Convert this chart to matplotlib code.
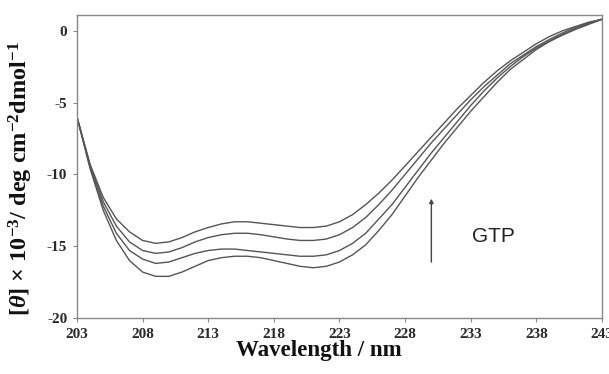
import numpy as np
import matplotlib.pyplot as plt

plt.rcParams['axes.unicode_minus'] = False
plt.rcParams['mathtext.fontset'] = 'custom'
plt.rcParams['mathtext.rm'] = 'Liberation Serif:bold'
plt.rcParams['mathtext.it'] = 'Liberation Serif:bold:italic'
plt.rcParams['mathtext.bf'] = 'Liberation Serif:bold'

wavelength = np.arange(203, 244)

# CD spectra, increasing GTP (bottom -> top)
cd_0 = [-6.0, -9.6, -12.5, -14.6, -16.0, -16.8, -17.1, -17.1, -16.8, -16.4,
        -16.0, -15.8, -15.7, -15.7, -15.8, -16.0, -16.2, -16.4, -16.5, -16.4,
        -16.1, -15.6, -14.9, -13.9, -12.8, -11.5, -10.2, -9.0, -7.8, -6.7,
        -5.6, -4.6, -3.6, -2.7, -2.0, -1.3, -0.75, -0.3, 0.1, 0.45, 0.8]
cd_1 = [-6.0, -9.5, -12.2, -14.1, -15.3, -15.9, -16.2, -16.1, -15.8, -15.5,
        -15.3, -15.2, -15.2, -15.3, -15.4, -15.5, -15.6, -15.7, -15.7, -15.6,
        -15.3, -14.8, -14.1, -13.1, -12.1, -10.9, -9.7, -8.5, -7.4, -6.3,
        -5.2, -4.2, -3.3, -2.5, -1.8, -1.2, -0.7, -0.25, 0.15, 0.5, 0.8]
cd_2 = [-6.0, -9.4, -11.9, -13.6, -14.7, -15.3, -15.5, -15.4, -15.1, -14.7,
        -14.4, -14.2, -14.1, -14.1, -14.2, -14.35, -14.5, -14.6, -14.6, -14.5,
        -14.2, -13.7, -13.0, -12.1, -11.1, -10.0, -8.9, -7.8, -6.8, -5.8,
        -4.8, -3.9, -3.1, -2.3, -1.7, -1.1, -0.6, -0.15, 0.25, 0.55, 0.8]
cd_3 = [-6.0, -9.3, -11.6, -13.1, -14.0, -14.6, -14.8, -14.7, -14.4, -14.0,
        -13.7, -13.45, -13.3, -13.3, -13.4, -13.5, -13.6, -13.7, -13.7, -13.6,
        -13.3, -12.8, -12.1, -11.3, -10.4, -9.4, -8.4, -7.4, -6.4, -5.4,
        -4.5, -3.6, -2.8, -2.1, -1.5, -0.9, -0.4, 0.0, 0.3, 0.6, 0.8]

xticks = [203, 208, 213, 218, 223, 228, 233, 238, 243]
yticks = [0, -5, -10, -15, -20]

fig = plt.figure(figsize=(6.09, 3.74), dpi=100)
ax = fig.add_axes([0.1264, 0.1497, 0.8621, 0.8103])

for cd in [cd_0, cd_1, cd_2, cd_3]:
    ax.plot(wavelength, cd, color='#555555', lw=1.0)

ax.set_xlim(203, 243)
ax.set_ylim(-20, 1.1)
ax.set_xticks(xticks)
ax.set_yticks(yticks)
ax.set_xticklabels([str(t) for t in xticks], family='Liberation Serif',
                   fontweight='bold', fontsize=11, color='#2a2a2a')
ax.set_yticklabels([str(t) for t in yticks], family='Liberation Serif',
                   fontweight='bold', fontsize=11, color='#2a2a2a')
ax.tick_params(direction='out', length=3, width=0.8, color='#888888', pad=4)
for s in ax.spines.values():
    s.set_color('#888888')
    s.set_linewidth(1.0)

ax.set_xlabel('Wavelength / nm', family='Liberation Serif', fontweight='bold',
              fontsize=16.5, color='#111111')
ax.xaxis.set_label_coords(0.461, -0.072)
ax.set_ylabel(r'[$\theta$] $\times$ 10$^{-3}$/ deg cm$^{-2}$dmol$^{-1}$',
              family='Liberation Serif', fontweight='bold', fontsize=17.5,
              color='#111111')
ax.yaxis.set_label_coords(-0.08, 0.46)

ax.annotate('', xy=(230, -11.5), xytext=(230, -16.3),
            arrowprops=dict(arrowstyle='-|>', color='#444444', lw=1.0,
                            mutation_scale=6))
ax.text(234.75, -14.35, 'GTP', family='Liberation Sans', fontsize=15,
        color='#222222', ha='center', va='center')

fig.savefig('out.png', dpi=100)
